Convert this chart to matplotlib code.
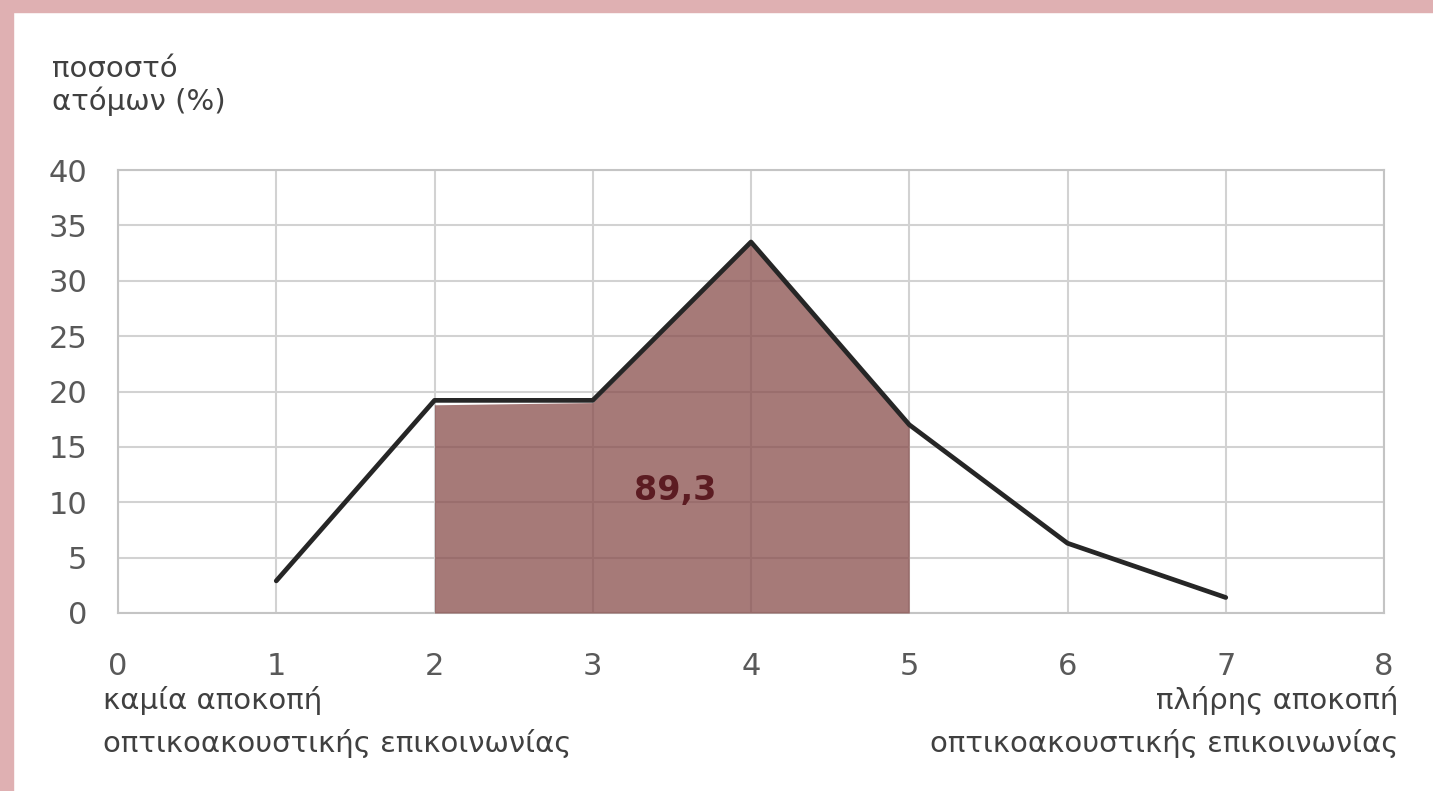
import matplotlib.pyplot as plt
import matplotlib
from matplotlib.patches import Rectangle

matplotlib.rcParams['font.family'] = ['DejaVu Sans']

# line data
x_vals = [1, 2, 3, 4, 5, 6, 7]
y_vals = [2.9, 19.2, 19.2, 33.5, 17.0, 6.3, 1.4]

# shaded area (points 2..5)
fill_x = [2, 3, 4, 5]
fill_y = [18.8, 19.0, 33.5, 16.8]
area_label = "89,3"

x_ticks = [0, 1, 2, 3, 4, 5, 6, 7, 8]
y_ticks = [0, 5, 10, 15, 20, 25, 30, 35, 40]

TEXT_GREY = "#595959"
GRID_GREY = "#d2d2d2"

fig = plt.figure(figsize=(14.33, 7.91), dpi=100)
ax = fig.add_axes([118 / 1433, 178 / 791, (1384 - 118) / 1433, (613 - 170) / 791])

ax.fill_between(fill_x, 0, fill_y, color="#884d4b", alpha=0.75, linewidth=0, zorder=3)
ax.plot(x_vals, y_vals, color="#262626", linewidth=3.4, solid_capstyle="round", zorder=4)
ax.text(3.52, 11.1, area_label, ha="center", va="center", fontsize=24,
        fontweight="bold", color="#5c1c22", zorder=5)

ax.set_xlim(0, 8)
ax.set_ylim(0, 40)
ax.set_xticks(x_ticks)
ax.set_yticks(y_ticks)
ax.grid(True, color=GRID_GREY, linewidth=1.5, zorder=1)
ax.set_axisbelow(True)
ax.tick_params(length=0, labelsize=22, labelcolor=TEXT_GREY)
ax.tick_params(axis="x", pad=28)
ax.tick_params(axis="y", pad=22)
for sp in ax.spines.values():
    sp.set_color("#c4c4c4")
    sp.set_linewidth(1.5)

fig.text(52 / 1433, (791 - 55) / 791, "ποσοστό\nατόμων (%)", ha="left", va="top",
         fontsize=21, color="#404040", linespacing=1.15)
fig.text(103 / 1433, (791 - 686) / 791, "καμία αποκοπή\nοπτικοακουστικής επικοινωνίας",
         ha="left", va="top", fontsize=21, color="#404040", linespacing=1.6)
fig.text(1398 / 1433, (791 - 686) / 791, "πλήρης αποκοπή\nοπτικοακουστικής επικοινωνίας",
         ha="right", va="top", fontsize=21, color="#404040", linespacing=1.6,
         multialignment="right")

# pink frame on the left and top
fig.patches.append(Rectangle((0, 0), 13 / 1433, 1, transform=fig.transFigure,
                             color="#dfb0b2", zorder=0))
fig.patches.append(Rectangle((0, 1 - 12 / 791), 1, 12 / 791, transform=fig.transFigure,
                             color="#dfb0b2", zorder=0))

fig.savefig("out.png", dpi=100)
